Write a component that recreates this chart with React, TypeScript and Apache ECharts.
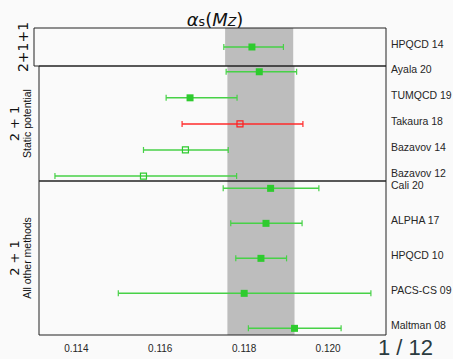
import React, { useEffect, useRef } from "react";
import * as echarts from "echarts";

// ---- data ----
const names = ["HPQCD 14", "Ayala 20", "TUMQCD 19", "Takaura 18", "Bazavov 14", "Bazavov 12", "Cali 20", "ALPHA 17", "HPQCD 10", "PACS-CS 09", "Maltman 08"];
const central = [0.11823, 0.11836, 0.11671, 0.1179, 0.1166, 0.1156, 0.11863, 0.11852, 0.1184, 0.118, 0.1192];
const lower = [0.11757, 0.11757, 0.11614, 0.11652, 0.1156, 0.11349, 0.1175, 0.11768, 0.1178, 0.115, 0.1181];
const upper = [0.11897, 0.11925, 0.11783, 0.1194, 0.11762, 0.11782, 0.11978, 0.11938, 0.11901, 0.12102, 0.12031];
const panelOf = [0, 1, 1, 1, 1, 1, 2, 2, 2, 2, 2];
const filledMarker = [1, 1, 1, 0, 0, 0, 1, 1, 1, 1, 1];
const redMarker = [0, 0, 0, 1, 0, 0, 0, 0, 0, 0, 0];
const panelTitles = ["2+1+1", "2 + 1", "2 + 1"];
const panelSubtitles = ["", "Static potential", "All other methods"];
const bandRange = [0.1176, 0.1192];
const xTicks = [0.114, 0.116, 0.118, 0.12];
const xRange = [0.11311, 0.12138];
const panelRanges = [[-0.5, 0.5], [-0.22, 4.19], [-0.21, 4.19]];
const pageLabel = "1 / 12";

const gridBoxes = [
  { top: 28, height: 38 },
  { top: 66, height: 115 },
  { top: 181, height: 154 },
];

const REG = "'Liberation Sans', Arial, sans-serif";
const MATH = "'DejaVu Sans', sans-serif";

function renderPoint(params: any, api: any) {
  const x0 = api.value(0);
  const lo = api.value(1);
  const hi = api.value(2);
  const row = api.value(3);
  const filled = api.value(4);
  const red = api.value(5);
  const idx = api.value(6);
  const c = api.coord([x0, row]);
  const l = api.coord([lo, row]);
  const h = api.coord([hi, row]);
  const cs = params.coordSys;
  const lineColor = red ? "#ff2b2b" : "#47d147";
  const mColor = red ? "#ff1f1f" : "#2ecb2e";
  const y = c[1];
  const children: any[] = [
    { type: "line", shape: { x1: l[0], y1: y, x2: h[0], y2: y }, style: { stroke: lineColor, lineWidth: 1.5 } },
    { type: "line", shape: { x1: l[0], y1: y - 3, x2: l[0], y2: y + 3 }, style: { stroke: lineColor, lineWidth: 1.2 } },
    { type: "line", shape: { x1: h[0], y1: y - 3, x2: h[0], y2: y + 3 }, style: { stroke: lineColor, lineWidth: 1.2 } },
    filled
      ? { type: "rect", shape: { x: c[0] - 3.5, y: y - 3.5, width: 7, height: 7 }, style: { fill: mColor } }
      : { type: "rect", shape: { x: c[0] - 3, y: y - 3, width: 6, height: 6 }, style: { fill: "none", stroke: mColor, lineWidth: 1.2 } },
    {
      type: "text",
      style: {
        text: names[idx],
        x: cs.x + cs.width + 5,
        y: y - 3,
        fill: "#262626",
        fontSize: 10.5,
        fontFamily: REG,
        align: "left",
        verticalAlign: "middle",
      },
    },
  ];
  return { type: "group", children };
}

function renderBand(params: any, api: any) {
  const cs = params.coordSys;
  const a = api.coord([api.value(0), 0]);
  const b = api.coord([api.value(1), 0]);
  return { type: "rect", shape: { x: a[0], y: cs.y, width: b[0] - a[0], height: cs.height }, style: { fill: "#bdbdbd" } };
}

export default function App() {
  const ref = useRef<HTMLDivElement>(null);
  useEffect(() => {
    document.body.style.margin = "0";
    document.body.style.background = "#fafafa";
    const chart = echarts.init(ref.current!, null, { renderer: "svg" });

    const grids = gridBoxes.map((g) => ({
      left: 34,
      width: 352,
      top: g.top,
      height: g.height,
      show: true,
      borderColor: "#222",
      borderWidth: 1,
      backgroundColor: "transparent",
    }));

    const xAxes = gridBoxes.map((_, i) => ({
      type: "value",
      gridIndex: i,
      min: xRange[0],
      max: xRange[1],
      axisLine: { show: false },
      axisTick: { show: false },
      splitLine: { show: false },
      axisLabel: {
        show: i === 2,
        customValues: xTicks,
        formatter: (v: number) => v.toFixed(3),
        fontFamily: REG,
        fontSize: 10,
        color: "#262626",
        margin: 8,
      },
    }));

    const yAxes = gridBoxes.map((_, i) => ({
      type: "value",
      gridIndex: i,
      inverse: true,
      min: panelRanges[i][0],
      max: panelRanges[i][1],
      axisLine: { show: false },
      axisTick: { show: false },
      axisLabel: { show: false },
      splitLine: { show: false },
      name: panelSubtitles[i] ? `{a|${panelTitles[i]}}\n{b|${panelSubtitles[i]}}` : `{c|${panelTitles[i]}}`,
      nameLocation: "middle",
      nameRotate: 90,
      nameGap: panelSubtitles[i] ? 6 : 4,
      nameTextStyle: {
        rich: {
          a: { fontFamily: MATH, fontSize: 13, color: "#111", lineHeight: 13 },
          b: { fontFamily: REG, fontSize: 10.5, color: "#111", lineHeight: 12 },
          c: { fontFamily: MATH, fontSize: 14, color: "#111" },
        },
      },
    }));

    const series: any[] = [];
    gridBoxes.forEach((_, p) => {
      series.push({
        type: "custom",
        xAxisIndex: p,
        yAxisIndex: p,
        z: -1,
        silent: true,
        renderItem: renderBand,
        data: [[bandRange[0], bandRange[1]]],
        encode: { x: [0, 1] },
      });
      const rows: number[][] = [];
      let r = 0;
      names.forEach((_, i) => {
        if (panelOf[i] === p) {
          rows.push([central[i], lower[i], upper[i], r, filledMarker[i], redMarker[i], i]);
          r++;
        }
      });
      series.push({
        type: "custom",
        xAxisIndex: p,
        yAxisIndex: p,
        z: 3,
        renderItem: renderPoint,
        data: rows,
        encode: { x: [0, 1, 2], y: 3 },
      });
    });

    const tStyle = { fontFamily: MATH, color: "#111", fontWeight: "normal", verticalAlign: "bottom", lineHeight: 22 };
    chart.setOption({
      animation: false,
      backgroundColor: "#fafafa",
      title: {
        text: "{i|α}{s|s}{n|(}{i|M}{z|Z}{n|)}",
        left: 210,
        top: 1,
        textAlign: "center",
        textStyle: {
          fontWeight: "normal",
          rich: {
            i: { ...tStyle, fontStyle: "italic", fontSize: 18 },
            n: { ...tStyle, fontSize: 18 },
            s: { ...tStyle, fontSize: 12.5, padding: [6, 0, 0, 0] },
            z: { ...tStyle, fontStyle: "italic", fontSize: 12.5, padding: [6, 0, 0, 0] },
          },
        },
      },
      grid: grids,
      xAxis: xAxes,
      yAxis: yAxes,
      series,
      graphic: [
        {
          type: "text",
          right: 20,
          bottom: 1,
          style: { text: pageLabel, fontFamily: REG, fontSize: 22, fill: "#2b3b40" },
        },
      ],
    });
    return () => chart.dispose();
  }, []);
  return <div ref={ref} style={{ width: 453, height: 359 }} />;
}
